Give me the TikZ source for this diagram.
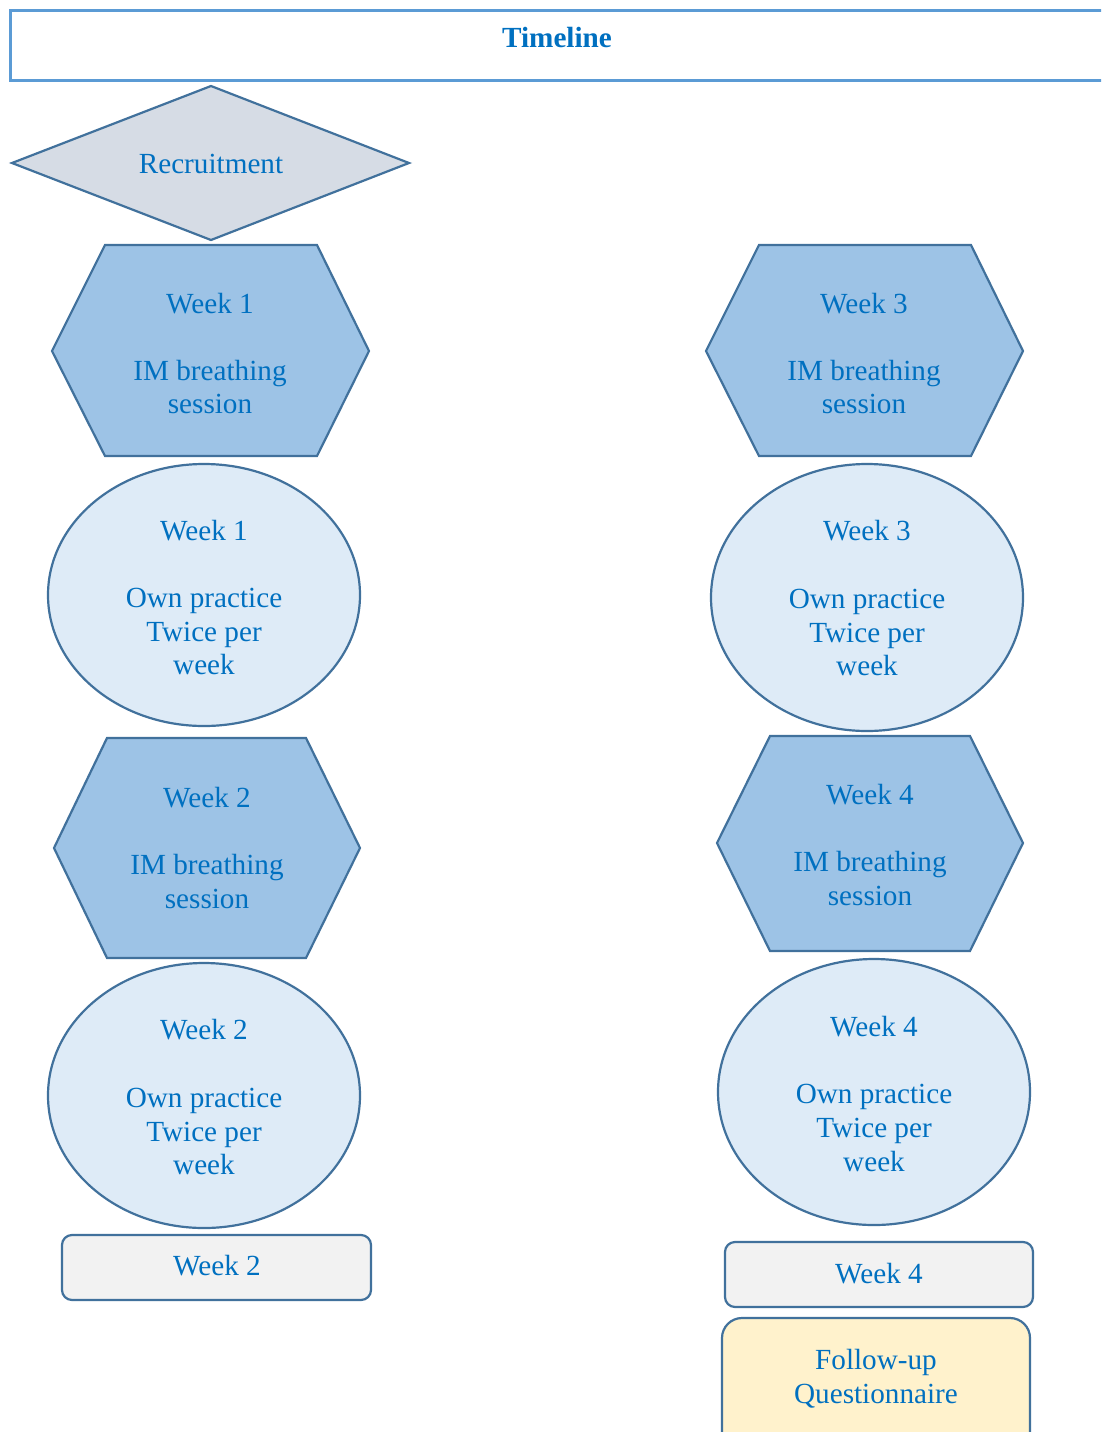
\documentclass[tikz,border=0pt]{standalone}
\usepackage{fontspec}
\setmainfont{Liberation Serif}
\definecolor{txtblue}{HTML}{0070C0}
\definecolor{edge}{HTML}{41719C}
\definecolor{titleedge}{HTML}{5B9BD5}
\definecolor{diafill}{HTML}{D6DCE5}
\definecolor{hexfill}{HTML}{9DC3E6}
\definecolor{ellfill}{HTML}{DEEBF7}
\definecolor{grayfill}{HTML}{F2F2F2}
\definecolor{yelfill}{HTML}{FFF2CC}
\tikzset{
  shapeline/.style={draw=edge, line width=2.2pt, line join=miter},
  tl/.style={anchor=base, inner sep=0pt, text=txtblue, font=\fontsize{29.2}{33.6}\selectfont},
  tlb/.style={tl, font=\fontsize{29.2}{33.6}\selectfont\bfseries}
}
\begin{document}
\begin{tikzpicture}[x=1pt,y=-1pt]
\clip (0,0) rectangle (1101,1432);
\fill[white] (0,0) rectangle (1101,1432);
% title
\draw[draw=titleedge, line width=3pt] (10,10) rectangle (1115,80);
\node[tlb] (title) at (557,47) {Timeline};
% recruitment diamond
\draw[shapeline, fill=diafill] (12,163) -- (211,86) -- (409,163) -- (211,240) -- cycle;
\node[tl] (rec) at (211,173) {Recruitment};
% left column
\draw[shapeline, fill=hexfill] (105,245) -- (317,245) -- (369,351) -- (317,456) -- (105,456) -- (52,351) -- cycle;
\node[tl] (h1a) at (210,313) {Week 1};
\node[tl] (h1b) at (210,380) {IM breathing};
\node[tl] (h1c) at (210,413) {session};
\draw[shapeline, fill=ellfill] (204,595) ellipse [x radius=156, y radius=131];
\node[tl] (e1a) at (204,540) {Week 1};
\node[tl] (e1b) at (204,607) {Own practice};
\node[tl] (e1c) at (204,641) {Twice per};
\node[tl] (e1d) at (204,674) {week};
\draw[shapeline, fill=hexfill] (107,738) -- (306,738) -- (360,848) -- (306,958) -- (107,958) -- (54,848) -- cycle;
\node[tl] (h2a) at (207,807) {Week 2};
\node[tl] (h2b) at (207,874) {IM breathing};
\node[tl] (h2c) at (207,908) {session};
\draw[shapeline, fill=ellfill] (204,1095.5) ellipse [x radius=156, y radius=132.5];
\node[tl] (e2a) at (204,1039) {Week 2};
\node[tl] (e2b) at (204,1107) {Own practice};
\node[tl] (e2c) at (204,1141) {Twice per};
\node[tl] (e2d) at (204,1174) {week};
\draw[shapeline, fill=grayfill, rounded corners=10pt] (62,1235) rectangle (371,1300);
\node[tl] (b2) at (217,1275) {Week 2};
% right column
\draw[shapeline, fill=hexfill] (759,245) -- (971,245) -- (1023,351) -- (971,456) -- (759,456) -- (706,351) -- cycle;
\node[tl] (h3a) at (864,313) {Week 3};
\node[tl] (h3b) at (864,380) {IM breathing};
\node[tl] (h3c) at (864,413) {session};
\draw[shapeline, fill=ellfill] (867,597.5) ellipse [x radius=156, y radius=133.5];
\node[tl] (e3a) at (867,540) {Week 3};
\node[tl] (e3b) at (867,608) {Own practice};
\node[tl] (e3c) at (867,642) {Twice per};
\node[tl] (e3d) at (867,675) {week};
\draw[shapeline, fill=hexfill] (770,736) -- (970,736) -- (1023,843) -- (970,951) -- (770,951) -- (717,843) -- cycle;
\node[tl] (h4a) at (870,804) {Week 4};
\node[tl] (h4b) at (870,871) {IM breathing};
\node[tl] (h4c) at (870,905) {session};
\draw[shapeline, fill=ellfill] (874,1092) ellipse [x radius=156, y radius=133];
\node[tl] (e4a) at (874,1036) {Week 4};
\node[tl] (e4b) at (874,1103) {Own practice};
\node[tl] (e4c) at (874,1137) {Twice per};
\node[tl] (e4d) at (874,1171) {week};
\draw[shapeline, fill=grayfill, rounded corners=10pt] (725,1242) rectangle (1033,1307);
\node[tl] (b4) at (879,1283) {Week 4};
\draw[shapeline, fill=yelfill, rounded corners=20pt] (722,1318) rectangle (1030,1460);
\node[tl] (f1) at (876,1369) {Follow-up};
\node[tl] (f2) at (876,1403) {Questionnaire};
\end{tikzpicture}
\end{document}
